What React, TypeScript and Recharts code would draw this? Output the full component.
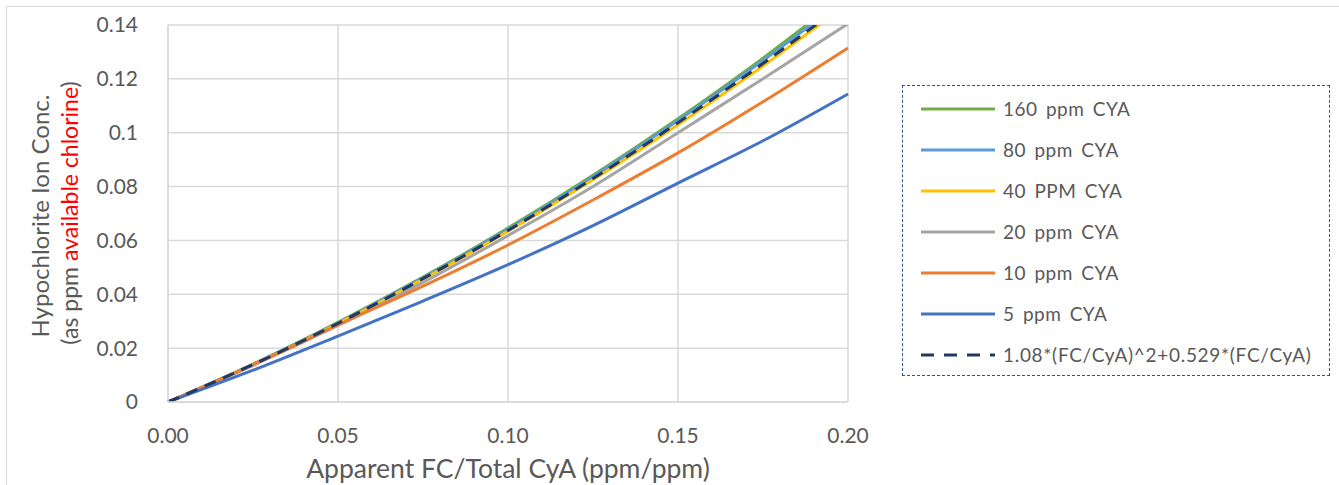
import React from 'react';
import { LineChart, Line, XAxis, YAxis, CartesianGrid } from 'recharts';

// FC/CyA ratio sample points
const ratios = [0, 0.025, 0.05, 0.075, 0.1, 0.125, 0.15, 0.175, 0.2];

// hypochlorite ion conc.
const cya160 = [0, 0.0141, 0.0296, 0.0464, 0.0646, 0.0842, 0.1052, 0.1277, 0.152];
const cya80 = [0, 0.014, 0.0294, 0.0461, 0.0641, 0.0836, 0.1045, 0.1268, 0.1505];
const cya40 = [0, 0.0138, 0.0291, 0.0456, 0.0634, 0.0825, 0.103, 0.1248, 0.148];
const cya20 = [0, 0.0136, 0.0284, 0.0444, 0.0618, 0.08, 0.1, 0.12, 0.1405];
const cya10 = [0, 0.0138, 0.0286, 0.043, 0.0583, 0.075, 0.0925, 0.1115, 0.1315];
const cya5 = [0, 0.0118, 0.0245, 0.0375, 0.051, 0.0655, 0.0813, 0.097, 0.1144];
const fitCurve = [0, 0.0139, 0.0292, 0.0458, 0.0637, 0.083, 0.1037, 0.1257, 0.149];

const xTicks = [0, 0.05, 0.1, 0.15, 0.2];
const yTicks = [0, 0.02, 0.04, 0.06, 0.08, 0.1, 0.12, 0.14];

const series = [
  { key: 'c160', name: '160 ppm CYA', color: '#70ad47', values: cya160 },
  { key: 'c80', name: '80 ppm CYA', color: '#5b9bd5', values: cya80 },
  { key: 'c40', name: '40 PPM CYA', color: '#ffc000', values: cya40 },
  { key: 'c20', name: '20 ppm CYA', color: '#a5a5a5', values: cya20 },
  { key: 'c10', name: '10 ppm CYA', color: '#ed7d31', values: cya10 },
  { key: 'c5', name: '5 ppm CYA', color: '#4472c4', values: cya5 },
];

const fit = { key: 'fit', name: '1.08*(FC/CyA)^2+0.529*(FC/CyA)', color: '#203864', values: fitCurve };

const data = ratios.map((r, i) => {
  const row: { [k: string]: number } = { x: r };
  series.forEach((s) => { row[s.key] = s.values[i]; });
  row[fit.key] = fit.values[i];
  return row;
});

const FONT = 'Lato, sans-serif';
const TEXT = '#595959';

const YLabel = () => (
  <g fontFamily={FONT} fill={TEXT}>
    <text transform="translate(49, 216) rotate(-90)" textAnchor="middle" fontSize={24}>
      Hypochlorite Ion Conc.
    </text>
    <text transform="translate(78, 213) rotate(-90)" textAnchor="middle" fontSize={23}>
      (as ppm <tspan fill="#ff0000">available chlorine</tspan>)
    </text>
  </g>
);

const LegendBox = () => {
  const items = [...series, fit];
  return (
    <div
      style={{
        position: 'absolute',
        left: 902,
        top: 85,
        width: 428,
        height: 291,
        border: '1px dashed #2f5597',
        boxSizing: 'border-box',
        paddingTop: 2,
        fontFamily: FONT,
      }}
    >
      {items.map((it) => (
        <div key={it.key} style={{ display: 'flex', alignItems: 'center', height: 41 }}>
          <svg width={80} height={10} style={{ marginLeft: 17 }}>
            <line
              x1={1}
              x2={75}
              y1={5}
              y2={5}
              stroke={it.color}
              strokeWidth={3}
              strokeDasharray={it.key === 'fit' ? '13 10' : undefined}
            />
          </svg>
          <span
            style={{
              fontSize: 19,
              color: TEXT,
              marginLeft: 3,
              letterSpacing: it.key === 'fit' ? 0.7 : 0.5,
              wordSpacing: it.key === 'fit' ? 0 : 3,
              whiteSpace: 'nowrap',
            }}
          >
            {it.name}
          </span>
        </div>
      ))}
    </div>
  );
};

export default function App() {
  return (
    <div style={{ position: 'fixed', left: 0, top: 0, width: 1339, height: 485, background: '#fff' }}>
      <div
        style={{
          position: 'absolute',
          left: 6,
          top: 6,
          width: 1333,
          height: 479,
          borderTop: '1px solid #d9d9d9',
          borderLeft: '1px solid #d9d9d9',
        }}
      />
      <div style={{ position: 'absolute', left: 0, top: 0 }}>
        <LineChart
          width={1339}
          height={485}
          data={data}
          margin={{ top: 25, right: 491, left: 108, bottom: 0 }}
        >
          <CartesianGrid stroke="#d9d9d9" strokeWidth={1.5} />
          <XAxis
            dataKey="x"
            type="number"
            domain={[0, 0.2]}
            ticks={xTicks}
            tickFormatter={(v: number) => v.toFixed(2)}
            tick={{ fontSize: 21, fill: TEXT, fontFamily: FONT }}
            tickLine={false}
            axisLine={{ stroke: '#d9d9d9', strokeWidth: 1.5 }}
            tickMargin={20}
            height={83}
            label={{
              value: 'Apparent FC/Total CyA (ppm/ppm)',
              position: 'insideBottom',
              offset: 7,
              fontSize: 26.5,
              fill: TEXT,
              fontFamily: FONT,
            }}
          />
          <YAxis
            type="number"
            domain={[0, 0.14]}
            ticks={yTicks}
            allowDataOverflow
            tickFormatter={(v: number) => String(Number(v.toFixed(2)))}
            tick={{ fontSize: 21, fill: TEXT, fontFamily: FONT }}
            tickLine={false}
            axisLine={{ stroke: '#d9d9d9', strokeWidth: 1.5 }}
            tickMargin={24}
            width={60}
            label={YLabel}
          />
          {series.map((s) => (
            <Line
              key={s.key}
              dataKey={s.key}
              name={s.name}
              type="monotone"
              stroke={s.color}
              strokeWidth={3}
              dot={false}
              isAnimationActive={false}
            />
          ))}
          <Line
            dataKey={fit.key}
            name={fit.name}
            type="monotone"
            stroke={fit.color}
            strokeWidth={3}
            strokeDasharray="12 8"
            dot={false}
            isAnimationActive={false}
          />
        </LineChart>
      </div>
      <LegendBox />
    </div>
  );
}
